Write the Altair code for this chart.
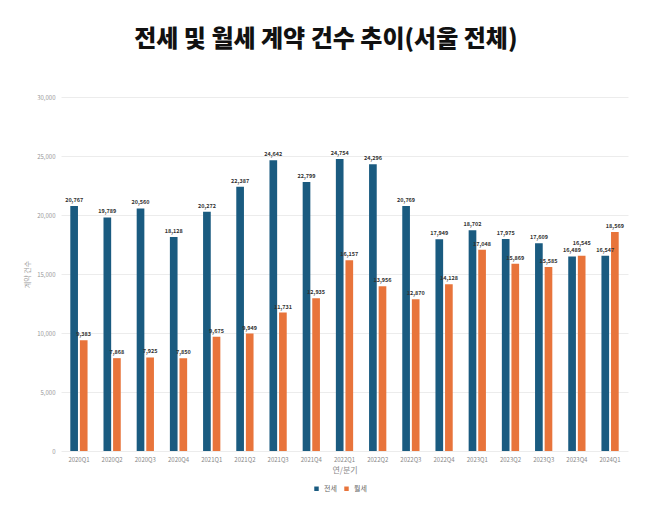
import altair as alt
import pandas as pd

quarters = ["2020Q1", "2020Q2", "2020Q3", "2020Q4", "2021Q1", "2021Q2", "2021Q3", "2021Q4",
            "2022Q1", "2022Q2", "2022Q3", "2022Q4", "2023Q1", "2023Q2", "2023Q3", "2023Q4", "2024Q1"]
jeonse = [20767, 19789, 20560, 18128, 20272, 22387, 24642, 22799,
          24754, 24296, 20769, 17949, 18702, 17975, 17609, 16489, 16547]
wolse = [9383, 7868, 7925, 7850, 9675, 9949, 11731, 12935,
         16157, 13956, 12870, 14128, 17048, 15869, 15585, 16545, 18569]
series = ["전세", "월세"]
colors = ["#1a5b80", "#e8743b"]

rows = []
for q, j, w in zip(quarters, jeonse, wolse):
    rows.append({"분기": q, "구분": series[0], "건수": j})
    rows.append({"분기": q, "구분": series[1], "건수": w})
df = pd.DataFrame(rows)

font = "Noto Sans CJK KR"

x = alt.X("분기:N", sort=quarters, title="연/분기",
          scale=alt.Scale(paddingInner=0.48, paddingOuter=0.28),
          axis=alt.Axis(labelAngle=0, labelFontSize=6, labelColor="#888", ticks=False,
                        domain=False, titleFontSize=8, titleColor="#888",
                        titleFontWeight="normal", labelPadding=5, titlePadding=4))
xo = alt.XOffset("구분:N", sort=series, scale=alt.Scale(paddingInner=0.2))

base = alt.Chart(df).encode(x=x, xOffset=xo)

bars = base.mark_bar().encode(
    y=alt.Y("건수:Q", title="계약 건수",
            scale=alt.Scale(domain=[0, 30000]),
            axis=alt.Axis(values=[0, 5000, 10000, 15000, 20000, 25000, 30000], format=",d",
                          labelFontSize=6, labelColor="#999", ticks=False, domain=False,
                          gridColor="#ececec", titleFontSize=7, titleColor="#999",
                          titleFontWeight="normal", labelPadding=6, titlePadding=6)),
    color=alt.Color("구분:N", sort=series, scale=alt.Scale(domain=series, range=colors),
                    legend=alt.Legend(orient="none", legendX=252, legendY=388, title=None,
                                      symbolType="square", symbolSize=20, labelFontSize=7,
                                      labelColor="#666", direction="horizontal",
                                      columnPadding=6, symbolStrokeWidth=0)),
)

crowded = (alt.datum["분기"] == "2023Q4") & (alt.datum["구분"] == "월세")

labels = base.mark_text(baseline="bottom", dy=-3, fontSize=5.5, color="#333",
                        fontWeight="bold").encode(
    y="건수:Q",
    text=alt.Text("건수:Q", format=","),
).transform_filter(~crowded)

labels_up = base.mark_text(baseline="bottom", dy=-10, fontSize=5.5, color="#333",
                           fontWeight="bold").encode(
    y="건수:Q",
    text=alt.Text("건수:Q", format=","),
).transform_filter(crowded)

chart = alt.layer(bars, labels, labels_up).properties(
    width=567, height=354,
    title=alt.Title("전세 및 월세 계약 건수 추이(서울 전체)", fontSize=24, fontWeight=900,
                    font=font, color="#111", offset=42, anchor="middle", frame="bounds"),
    padding={"top": 20, "left": 15, "right": 5, "bottom": 5},
).configure(font=font).configure_view(stroke=None)

chart.save("out.html", embed_options={"renderer": "svg", "actions": False})
